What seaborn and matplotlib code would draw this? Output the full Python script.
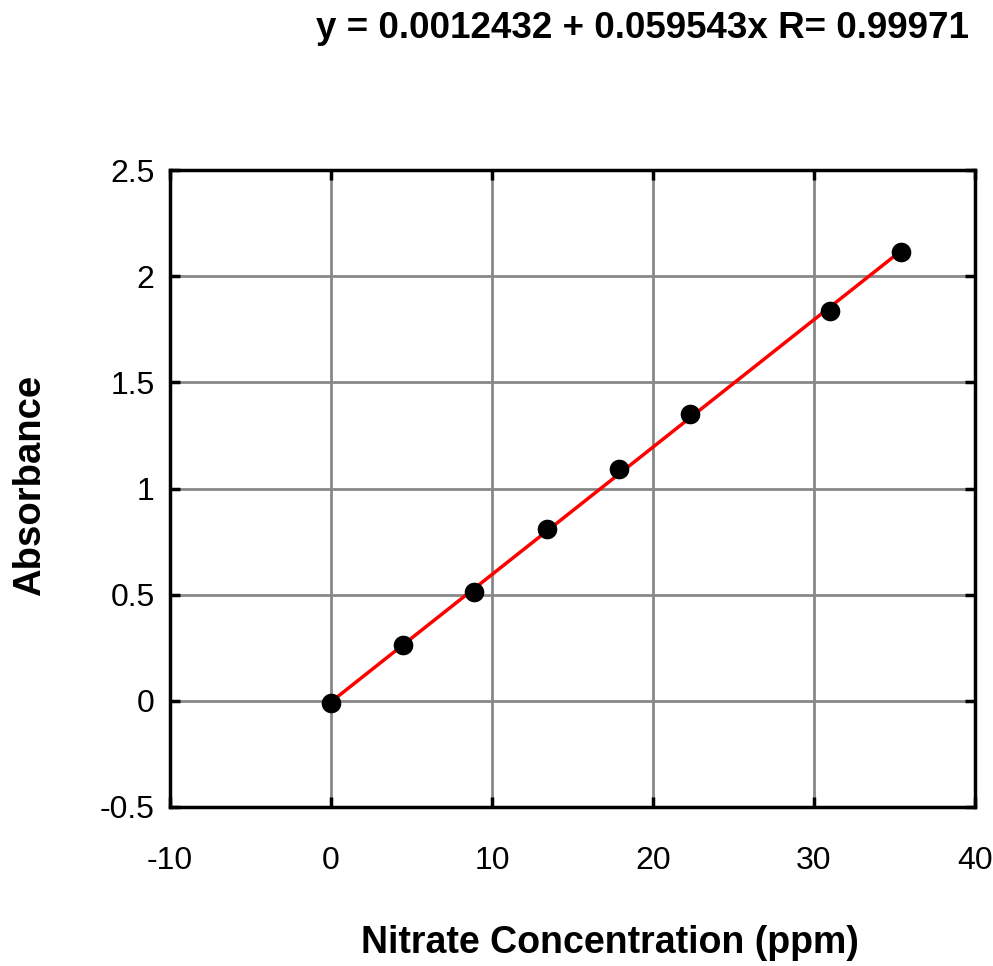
import numpy as np
import pandas as pd
import matplotlib
matplotlib.use("Agg")
import matplotlib.pyplot as plt
import seaborn as sns

# calibration data
concentration = [0.0, 4.45, 8.9, 13.4, 17.9, 22.3, 31.0, 35.4]
absorbance = [-0.012, 0.261, 0.511, 0.81, 1.09, 1.351, 1.838, 2.113]
fit_label = "y = 0.0012432 + 0.059543x R= 0.99971"
x_ticks = [-10, 0, 10, 20, 30, 40]
y_ticks = [-0.5, 0, 0.5, 1, 1.5, 2, 2.5]

df = pd.DataFrame({"conc": concentration, "abs": absorbance})

sns.set_style("white")
plt.rcParams['font.family'] = ['Liberation Sans', 'DejaVu Sans']
plt.rcParams['text.color'] = 'black'

fig = plt.figure(figsize=(9.93, 9.66), dpi=100)
ax = fig.add_axes([0.1712, 0.1646, 0.8107, 0.6594])

# fit line, then points on top
sns.regplot(data=df, x="conc", y="abs", ax=ax, scatter=False, ci=None,
            truncate=True, color="#ff0000", line_kws={"linewidth": 2.5, "zorder": 3})
sns.scatterplot(data=df, x="conc", y="abs", ax=ax, color="black", s=200,
                edgecolor="black", linewidth=0, zorder=4)

ax.set_xlim(-10, 40)
ax.set_ylim(-0.5, 2.5)
ax.set_xticks(x_ticks)
ax.set_yticks(y_ticks)
ax.set_xticklabels([str(t) for t in x_ticks])
ax.set_yticklabels(["-0.5", "0", "0.5", "1", "1.5", "2", "2.5"])
ax.grid(True, color="#888888", linewidth=2)
ax.set_axisbelow(True)
for s in ax.spines.values():
    s.set_color("black")
    s.set_linewidth(2.5)
    s.set_visible(True)
ax.tick_params(direction="in", length=7, width=2.5, color="black",
               top=True, right=True, bottom=True, left=True,
               labelsize=23, labelcolor="black")
ax.tick_params(axis="x", pad=28)
ax.tick_params(axis="y", pad=11)
ax.set_xlabel("")
ax.set_ylabel("")

fig.text(0.976, 0.971, fit_label, ha="right", va="center",
         fontsize=26.5, fontweight="bold", color="black")
fig.text(0.614, 0.024, "Nitrate Concentration (ppm)", ha="center", va="center",
         fontsize=27, fontweight="bold", color="black")
fig.text(0.03, 0.497, "Absorbance", ha="center", va="center", rotation=90,
         fontsize=27.5, fontweight="bold", color="black")

fig.savefig("out.png", dpi=100)
